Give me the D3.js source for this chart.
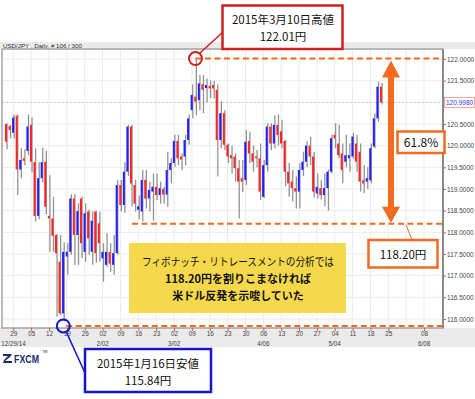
<!DOCTYPE html>
<html>
<head>
<meta charset="utf-8">
<script src="https://cdn.jsdelivr.net/npm/d3@7"></script>
<style>
body { margin: 0; background: #fff; }
svg { display: block; }
</style>
</head>
<body>
<svg id="chart" width="475" height="399"></svg>
<script>
"use strict";

// trading days shown (106 bars)
var dates = [
    "2014-12-25","2014-12-26","2014-12-29","2014-12-30","2014-12-31",
    "2015-01-01","2015-01-02","2015-01-05","2015-01-06","2015-01-07","2015-01-08","2015-01-09",
    "2015-01-12","2015-01-13","2015-01-14","2015-01-15","2015-01-16","2015-01-19","2015-01-20",
    "2015-01-21","2015-01-22","2015-01-23","2015-01-26","2015-01-27","2015-01-28","2015-01-29","2015-01-30",
    "2015-02-02","2015-02-03","2015-02-04","2015-02-05","2015-02-06","2015-02-09","2015-02-10",
    "2015-02-11","2015-02-12","2015-02-13","2015-02-16","2015-02-17","2015-02-18","2015-02-19",
    "2015-02-20","2015-02-23","2015-02-24","2015-02-25","2015-02-26","2015-02-27",
    "2015-03-02","2015-03-03","2015-03-04","2015-03-05","2015-03-06","2015-03-09","2015-03-10",
    "2015-03-11","2015-03-12","2015-03-13","2015-03-16","2015-03-17","2015-03-18","2015-03-19",
    "2015-03-20","2015-03-23","2015-03-24","2015-03-25","2015-03-26","2015-03-27","2015-03-30","2015-03-31",
    "2015-04-01","2015-04-02","2015-04-03","2015-04-06","2015-04-07","2015-04-08","2015-04-09",
    "2015-04-10","2015-04-13","2015-04-14","2015-04-15","2015-04-16","2015-04-17","2015-04-20",
    "2015-04-21","2015-04-22","2015-04-23","2015-04-24","2015-04-27","2015-04-28","2015-04-29","2015-04-30",
    "2015-05-01","2015-05-04","2015-05-05","2015-05-06","2015-05-07","2015-05-08","2015-05-11",
    "2015-05-12","2015-05-13","2015-05-14","2015-05-15","2015-05-18","2015-05-19","2015-05-20","2015-05-21"
];

var opens = [
    120.50,120.45,120.30,120.69,119.45,119.71,119.88,120.48,119.62,118.38,119.25,119.63,
    118.38,118.32,117.94,117.32,116.13,117.44,117.55,118.78,117.94,118.78,117.55,118.48,117.55,118.48,118.21,
    117.40,117.25,117.55,117.25,117.52,119.09,118.63,119.40,120.44,119.09,118.52,118.48,119.21,118.78,
    118.94,119.05,118.86,119.00,118.87,119.44,
    119.60,120.11,119.75,119.75,120.13,120.82,121.13,121.05,121.42,121.33,121.38,121.40,121.29,120.13,
    120.75,120.02,119.78,119.75,119.48,119.25,119.21,120.11,
    119.82,119.75,119.71,118.82,119.55,120.44,120.05,120.48,120.33,120.11,119.40,119.17,119.02,118.94,
    119.44,119.63,120.00,119.75,118.90,119.02,118.86,119.02,
    119.40,120.25,120.05,119.82,119.63,119.71,119.75,120.05,119.86,119.20,119.17,119.20,119.98,120.63,121.36
];
var highs = [
    120.52,120.48,120.72,120.72,119.94,119.92,120.72,120.65,119.94,119.62,119.95,119.88,
    119.32,118.82,117.96,117.94,117.77,117.76,118.88,118.88,118.67,118.82,118.67,118.52,118.48,118.50,118.48,
    117.75,117.98,117.75,117.94,119.21,119.21,119.62,120.48,120.48,119.21,118.85,119.44,119.44,119.17,
    119.36,119.36,119.17,119.05,119.86,119.71,
    120.25,120.25,119.82,120.25,120.72,121.42,122.01,121.63,121.63,121.55,121.50,121.50,121.42,121.02,
    120.82,120.05,120.00,119.82,119.67,119.67,120.36,120.32,
    120.00,119.90,120.05,119.67,120.52,120.52,120.70,120.72,120.60,120.13,119.60,119.44,119.29,119.60,
    119.86,120.10,120.20,119.86,119.36,119.20,119.36,119.45,
    120.25,120.52,120.48,120.05,120.25,120.05,120.30,120.25,120.05,119.55,119.50,120.05,120.75,121.48,121.45
];
var lows = [
    119.92,120.17,120.17,118.86,119.25,119.55,119.78,119.38,118.25,118.30,119.15,118.42,
    117.55,117.55,116.05,116.09,115.95,117.02,117.48,117.25,117.25,117.40,117.32,117.48,117.25,117.30,117.32,
    116.86,117.20,117.09,117.02,117.48,118.48,118.45,119.30,118.60,118.48,118.30,118.25,118.55,118.48,
    118.27,118.74,118.66,118.66,118.59,119.13,
    119.50,119.55,119.44,119.55,120.02,120.63,120.70,120.82,120.75,121.00,121.10,121.09,119.29,119.94,
    119.90,119.60,119.36,119.17,118.32,118.93,119.09,119.60,
    119.40,119.50,118.75,118.79,119.40,119.90,119.94,120.00,119.94,119.06,118.82,118.71,118.55,118.55,
    119.30,119.50,119.55,118.80,118.78,118.76,118.60,118.50,
    119.36,119.94,119.71,119.13,119.50,119.40,119.70,119.40,118.94,118.90,119.00,119.13,119.94,120.55,120.95
];
var closes = [
    120.09,120.36,120.65,119.45,119.67,119.65,120.44,119.63,118.38,119.25,119.62,118.59,
    118.32,117.92,117.52,116.13,117.55,117.55,118.78,117.94,118.49,117.75,118.44,117.86,118.27,117.52,117.75,
    117.55,117.55,117.28,117.52,119.09,118.63,119.40,120.44,119.13,118.66,118.60,119.21,118.78,118.98,
    119.05,118.86,119.02,118.87,119.44,119.60,
    120.11,119.71,119.68,120.13,120.63,121.17,121.02,121.44,121.29,121.40,121.32,121.32,120.13,120.75,
    120.02,119.75,119.71,119.48,119.17,119.17,120.09,119.82,
    119.63,119.71,118.94,119.55,120.44,120.05,120.48,120.25,120.05,119.40,119.13,119.02,118.94,119.44,
    119.63,120.00,119.75,118.94,119.05,118.86,119.02,119.40,
    120.17,120.17,119.78,119.44,119.78,119.78,120.21,119.63,119.17,119.13,119.25,119.94,120.63,121.36,120.998
];

// axis labels (weekly ticks on Mondays, first one is 12/29)
var weekLabels = ["29","05","12","19","26","02","09","16","23","02","09","16","23",
                  "30","06","13","20","27","04","11","18","25","","08"];
var monthLabels = ["12/29/14","2/02","3/02","4/06","5/04","6/08"];
var monthWeeks = [0, 5, 9, 14, 18, 23];
var priceTicks = [116, 116.5, 117, 117.5, 118, 118.5, 119, 119.5, 120, 120.5, 121.5, 122];
var lastPrice = 120.998;

// annotation values
var highDate = "2015-03-10", highValue = 122.01;
var lowDate = "2015-01-16", lowValue = 115.84;
var fiboValue = 118.20;
var fiboRatio = "61.8%";

var FONT = "'Liberation Sans', Arial, sans-serif";
var JP = "'Noto Sans CJK JP', sans-serif";
var ORANGE = "#f26b1f";

var PLOT = { LEFT: 2, TOP: 49, RIGHT: 443, BOTTOM: 328 };

var candles = dates.map(function(d, i) {
    return { date: d, idx: i, o: opens[i], h: highs[i], l: lows[i], c: closes[i] };
});

// bar index -> x (index 2 = 12/29, index 107 = 5/25)
var x = d3.scaleLinear().domain([2, 107]).range([13.3, 388.3]);
var y = d3.scaleLinear().domain([116, 122]).range([319, 59]);

var weekIdx = weekLabels.map(function(d, i) { return 2 + i * 5; });

var svg = d3.select("#chart");

// grey header and axis bands
svg.append("rect").attr("x", 0).attr("y", 42).attr("width", 475).attr("height", 7).attr("fill", "#ebebeb");
svg.append("rect").attr("x", 0).attr("y", PLOT.BOTTOM).attr("width", 475).attr("height", 19).attr("fill", "#ebebeb");
svg.append("text").attr("x", 3).attr("y", 47.5)
    .attr("font-family", FONT).attr("font-size", 6.2).attr("fill", "#333")
    .text("USD/JPY , Daily, # 106 / 300");

// plot background
svg.append("rect")
    .attr("x", PLOT.LEFT).attr("y", PLOT.TOP)
    .attr("width", PLOT.RIGHT - PLOT.LEFT).attr("height", PLOT.BOTTOM - PLOT.TOP)
    .attr("fill", "#fff");

// grid
var grid = svg.append("g");
grid.selectAll(".vgrid").data(weekIdx).enter().append("line")
    .attr("x1", function(d) { return x(d); }).attr("x2", function(d) { return x(d); })
    .attr("y1", PLOT.TOP).attr("y2", PLOT.BOTTOM)
    .attr("stroke", "#ebebeb").attr("stroke-width", 1);
grid.selectAll(".hgrid").data(d3.range(116, 122.01, 0.5)).enter().append("line")
    .attr("x1", PLOT.LEFT).attr("x2", PLOT.RIGHT)
    .attr("y1", function(d) { return y(d); }).attr("y2", function(d) { return y(d); })
    .attr("stroke", "#ebebeb").attr("stroke-width", 1);
grid.append("line")
    .attr("x1", PLOT.LEFT).attr("x2", PLOT.RIGHT)
    .attr("y1", y(lastPrice)).attr("y2", y(lastPrice))
    .attr("stroke", "#cfcfcf").attr("stroke-dasharray", "2,2");

// frame
svg.append("rect")
    .attr("x", PLOT.LEFT).attr("y", PLOT.TOP)
    .attr("width", PLOT.RIGHT - PLOT.LEFT).attr("height", PLOT.BOTTOM - PLOT.TOP)
    .attr("fill", "none").attr("stroke", "#a3a3a3").attr("stroke-width", 1.5);
svg.append("line")
    .attr("x1", PLOT.RIGHT).attr("x2", PLOT.RIGHT).attr("y1", PLOT.TOP).attr("y2", PLOT.BOTTOM)
    .attr("stroke", "#8a8a8a").attr("stroke-width", 2);

// candles: grey wick + coloured body
var bars = svg.append("g").selectAll(".candle").data(candles).enter().append("g");
bars.append("line")
    .attr("x1", function(d) { return x(d.idx) + 0.9; })
    .attr("x2", function(d) { return x(d.idx) + 0.9; })
    .attr("y1", function(d) { return y(d.h); })
    .attr("y2", function(d) { return y(d.l); })
    .attr("stroke", "#929292").attr("stroke-width", 1.3);
bars.append("rect")
    .attr("x", function(d) { return x(d.idx) - 1.2; })
    .attr("width", 2)
    .attr("y", function(d) { return y(Math.max(d.o, d.c)); })
    .attr("height", function(d) { return Math.max(1, Math.abs(y(d.o) - y(d.c))); })
    .attr("fill", function(d) { return d.c >= d.o ? "#1f1fff" : "#ff2424"; });

// right price axis
var yAxis = d3.axisRight(y).tickValues(priceTicks)
    .tickFormat(d3.format(".4f")).tickSize(3).tickPadding(1);
var ya = svg.append("g").attr("transform", "translate(" + PLOT.RIGHT + ",0)").call(yAxis);
ya.select(".domain").remove();
ya.selectAll("line").attr("stroke", "#e05050");
ya.selectAll("text").attr("font-family", FONT).attr("font-size", 6.5).attr("fill", "#444");

// last price label
svg.append("rect").attr("x", 444.5).attr("y", y(lastPrice) - 5).attr("width", 30).attr("height", 10)
    .attr("fill", "#fff").attr("stroke", "#ff8c8c").attr("stroke-width", 0.8);
svg.append("text").attr("x", 446).attr("y", y(lastPrice) + 2.3)
    .attr("font-family", FONT).attr("font-size", 6.5).attr("fill", "#3030ff")
    .text(d3.format(".4f")(lastPrice));

// bottom date axis
var xAxis = d3.axisBottom(x).tickValues(weekIdx)
    .tickFormat(function(d, i) { return weekLabels[i]; }).tickSize(3).tickPadding(1);
var xa = svg.append("g").attr("transform", "translate(0," + PLOT.BOTTOM + ")").call(xAxis);
xa.select(".domain").remove();
xa.selectAll("line").attr("stroke", "#e05050").attr("opacity", function(d, i) { return weekLabels[i] ? 1 : 0; });
xa.selectAll("text").attr("font-family", FONT).attr("font-size", 6.3).attr("fill", "#444");

svg.append("g").selectAll("text").data(monthLabels).enter().append("text")
    .attr("x", function(d, i) { return Math.max(x(2 + monthWeeks[i] * 5), 13.5); })
    .attr("y", 346)
    .attr("text-anchor", "middle")
    .attr("font-family", FONT).attr("font-size", 6.3).attr("fill", "#444")
    .text(function(d) { return d; });

// ---- annotations ----
var hx = x(dates.indexOf(highDate)), hy = y(highValue);
var lx = x(dates.indexOf(lowDate)), ly = y(lowValue);
var fy = y(fiboValue);

var ann = svg.append("g");
var dashed = function(x1, yy) {
    ann.append("line").attr("x1", x1).attr("x2", PLOT.RIGHT).attr("y1", yy).attr("y2", yy)
        .attr("stroke", ORANGE).attr("stroke-width", 2).attr("stroke-dasharray", "6,3.5");
};
dashed(hx, hy);
dashed(132, fy);
dashed(lx + 3, ly);

// double arrow for the retracement
var ax = 391;
var arrow = d3.path();
arrow.moveTo(ax, hy + 2);
arrow.lineTo(ax + 9, hy + 19);
arrow.lineTo(ax + 3, hy + 19);
arrow.lineTo(ax + 3, fy - 17);
arrow.lineTo(ax + 9, fy - 17);
arrow.lineTo(ax, fy - 1);
arrow.lineTo(ax - 9, fy - 17);
arrow.lineTo(ax - 3, fy - 17);
arrow.lineTo(ax - 3, hy + 19);
arrow.lineTo(ax - 9, hy + 19);
arrow.closePath();
ann.append("path").attr("d", arrow.toString()).attr("fill", ORANGE);

// 61.8% box
ann.append("rect").attr("x", 397.5).attr("y", 131.5).attr("width", 47).attr("height", 21.5)
    .attr("fill", "#fff").attr("stroke", ORANGE).attr("stroke-width", 2.5);
ann.append("text").attr("x", 421).attr("y", 146.5).attr("text-anchor", "middle")
    .attr("font-family", JP).attr("font-size", 12).attr("fill", "#111").text(fiboRatio);

// 118.20 box
ann.append("line").attr("x1", 406).attr("y1", fy + 1).attr("x2", 412).attr("y2", 240)
    .attr("stroke", ORANGE).attr("stroke-width", 1);
ann.append("rect").attr("x", 368.5).attr("y", 240).attr("width", 69).attr("height", 27.5)
    .attr("fill", "#fff").attr("stroke", ORANGE).attr("stroke-width", 2.5);
ann.append("text").attr("x", 403).attr("y", 258.5).attr("text-anchor", "middle")
    .attr("font-family", JP).attr("font-size", 11.5).attr("fill", "#111").text("118.20円");

// yellow comment box
ann.append("rect").attr("x", 129).attr("y", 243).attr("width", 217).attr("height", 70).attr("fill", "#f6d84c");
ann.append("text").attr("x", 238).attr("y", 266).attr("text-anchor", "middle")
    .attr("font-family", JP).attr("font-size", 11).attr("fill", "#111")
    .attr("textLength", 192).attr("lengthAdjust", "spacingAndGlyphs")
    .text("フィボナッチ・リトレースメントの分析では");
ann.append("text").attr("x", 238).attr("y", 283).attr("text-anchor", "middle")
    .attr("font-family", JP).attr("font-size", 11).attr("font-weight", "bold").attr("fill", "#111")
    .text("118.20円を割りこまなければ");
ann.append("text").attr("x", 238).attr("y", 300).attr("text-anchor", "middle")
    .attr("font-family", JP).attr("font-size", 11).attr("font-weight", "bold").attr("fill", "#111")
    .text("米ドル反発を示唆していた");

// high marker (red)
ann.append("line").attr("x1", 223).attr("y1", 32).attr("x2", hx + 4).attr("y2", hy - 5)
    .attr("stroke", "#d01f1f").attr("stroke-width", 1.5);
ann.append("circle").attr("cx", hx).attr("cy", hy).attr("r", 6.5)
    .attr("fill", "none").attr("stroke", "#d01f1f").attr("stroke-width", 2);
ann.append("rect").attr("x", 222.5).attr("y", 5.5).attr("width", 120).attr("height", 43.5)
    .attr("fill", "#fff").attr("stroke", "#d01f1f").attr("stroke-width", 2.5);
ann.append("text").attr("x", 283).attr("y", 24).attr("text-anchor", "middle")
    .attr("font-family", JP).attr("font-size", 11.5).attr("fill", "#111").text("2015年3月10日高値");
ann.append("text").attr("x", 283).attr("y", 40.5).attr("text-anchor", "middle")
    .attr("font-family", JP).attr("font-size", 11.5).attr("fill", "#111").text("122.01円");

// low marker (blue)
ann.append("line").attr("x1", lx + 3).attr("y1", ly + 6).attr("x2", 85).attr("y2", 373)
    .attr("stroke", "#1616c8").attr("stroke-width", 1.5);
ann.append("circle").attr("cx", lx).attr("cy", ly).attr("r", 6.5)
    .attr("fill", "none").attr("stroke", "#1616c8").attr("stroke-width", 2);
ann.append("rect").attr("x", 85).attr("y", 349).attr("width", 126).attr("height", 43)
    .attr("fill", "#fff").attr("stroke", "#1616c8").attr("stroke-width", 2.5);
ann.append("text").attr("x", 148).attr("y", 368).attr("text-anchor", "middle")
    .attr("font-family", JP).attr("font-size", 11.5).attr("fill", "#111").text("2015年1月16日安値");
ann.append("text").attr("x", 148).attr("y", 384.5).attr("text-anchor", "middle")
    .attr("font-family", JP).attr("font-size", 11.5).attr("fill", "#111").text("115.84円");

// FXCM logo
var logo = svg.append("g").attr("fill", "#1b2a6e");
logo.append("path").attr("d", "M3,354 L12,354 L10,357 L5,361 L12,361 L12,363 L3,363 L4,360 L8,356 L3,356 Z");
logo.append("text").attr("x", 14).attr("y", 362.5)
    .attr("font-family", FONT).attr("font-size", 10).attr("font-weight", "bold")
    .attr("textLength", 25).attr("lengthAdjust", "spacingAndGlyphs").text("FXCM");
logo.append("text").attr("x", 42).attr("y", 353)
    .attr("font-family", FONT).attr("font-size", 3.8).text("TM");
</script>
</body>
</html>
